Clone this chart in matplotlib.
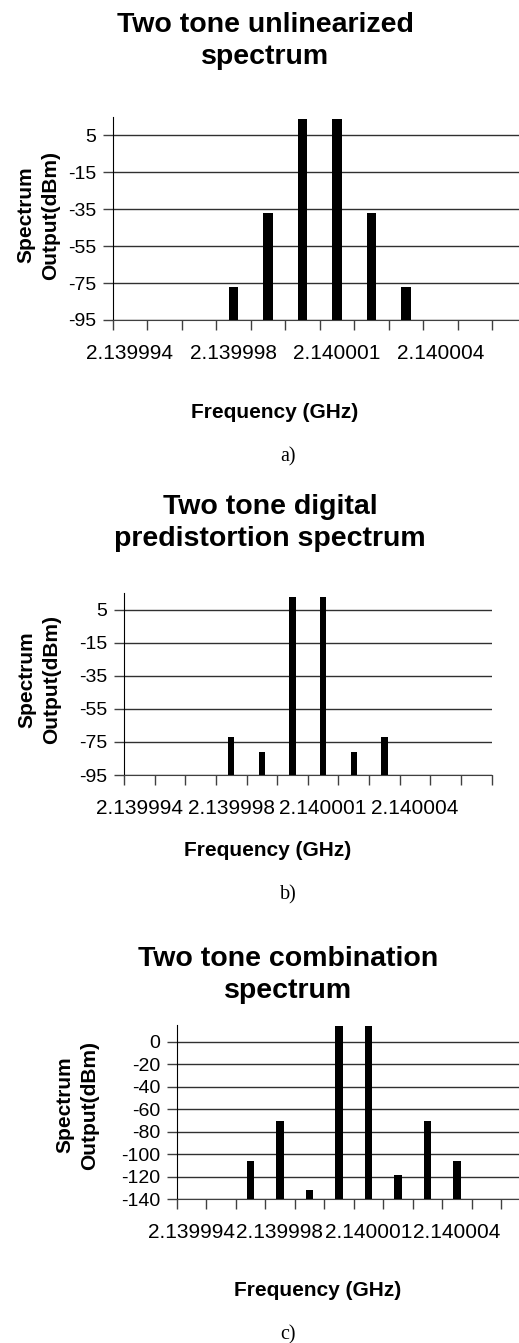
import numpy as np
import matplotlib.pyplot as plt

# category index 1..12, NaN where no bar
n_cat = 12
freq_labels = ["2.139994", "2.139998", "2.140001", "2.140004"]
label_cats = [1, 4, 7, 10]

unlin = [np.nan, np.nan, np.nan, -77, -37, 13.7, 13.7, -37, -77, np.nan, np.nan, np.nan]
dpd = [np.nan, np.nan, np.nan, -72, -81, 12.6, 12.6, -81, -72, np.nan, np.nan, np.nan]
combo = [np.nan, np.nan, -106, -71, -132, 13.6, 13.6, -119, -71, -106, np.nan, np.nan]

yticks_ab = [-95, -75, -55, -35, -15, 5]
yticks_c = [-140, -120, -100, -80, -60, -40, -20, 0]

W, H = 519, 1343
plt.rcParams['font.family'] = ['Liberation Sans', 'DejaVu Sans']
plt.rcParams['axes.unicode_minus'] = False
fig = plt.figure(figsize=(W / 100, H / 100), dpi=100)


def fx(px):
    return px / W


def fy(py):
    return 1 - py / H


def panel(left, right, top, bottom, vals, ymin, ymax, yticks, width):
    ax = fig.add_axes([fx(left), fy(bottom), fx(right - left), (bottom - top) / H])
    x = np.arange(1, n_cat + 1)
    v = np.array(vals, dtype=float)
    ax.bar(x, v - ymin, bottom=ymin, width=width, color='black', zorder=3)
    ax.set_xlim(0.5, n_cat + 0.5)
    ax.set_ylim(ymin, ymax)
    ax.set_yticks(yticks)
    ax.yaxis.grid(True, color='#303030', linewidth=1.0, zorder=0)
    ax.set_xticks(np.arange(0.5, n_cat + 1.5, 1.0))
    ax.set_xticklabels([])
    ax.set_xticks(label_cats, minor=True)
    ax.set_xticklabels(freq_labels, minor=True, fontsize=15)
    ax.tick_params(axis='x', which='minor', length=0, pad=17)
    ax.tick_params(axis='x', which='major', length=7, width=1, color='#404040')
    ax.tick_params(axis='y', length=7, width=1, pad=5, labelsize=14, color='#404040')
    for s in ['top', 'right']:
        ax.spines[s].set_visible(False)
    ax.spines['left'].set_color('black')
    ax.spines['bottom'].set_color('#404040')
    return ax


def labels(title_xy, title, xl_xy, yl_xy, cap_xy, cap):
    fig.text(fx(title_xy[0]), fy(title_xy[1]), title, ha='center', va='center',
             fontsize=20.5, fontweight='bold', linespacing=1.3)
    fig.text(fx(xl_xy[0]), fy(xl_xy[1]), "Frequency (GHz)", ha='center', va='center',
             fontsize=15, fontweight='bold')
    fig.text(fx(yl_xy[0]), fy(yl_xy[1]), "Spectrum\nOutput(dBm)", ha='center', va='center',
             rotation=90, fontsize=15, fontweight='bold', linespacing=1.4)
    fig.text(fx(cap_xy[0]), fy(cap_xy[1]), cap, ha='center', va='center',
             fontsize=14.5, family='Liberation Serif')


panel(112.7, 112.7 + 12 * 34.5, 117, 320, unlin, -95, 15, yticks_ab, 0.27)
labels((265, 41), "Two tone unlinearized\nspectrum", (275, 413), (38.5, 215), (288, 457), "a)")

panel(124, 491.7, 593, 775, dpd, -95, 15, yticks_ab, 0.21)
labels((270, 523), "Two tone digital\npredistortion spectrum", (268, 850), (39, 680), (288, 895), "b)")

panel(176.7, 176.7 + 12 * 29.5, 1024.7, 1199, combo, -140, 15, yticks_c, 0.25)
labels((288, 974.5), "Two tone combination\nspectrum", (318, 1290), (77.5, 1105), (288, 1335), "c)")

fig.savefig("out.png", dpi=100, facecolor='white')
